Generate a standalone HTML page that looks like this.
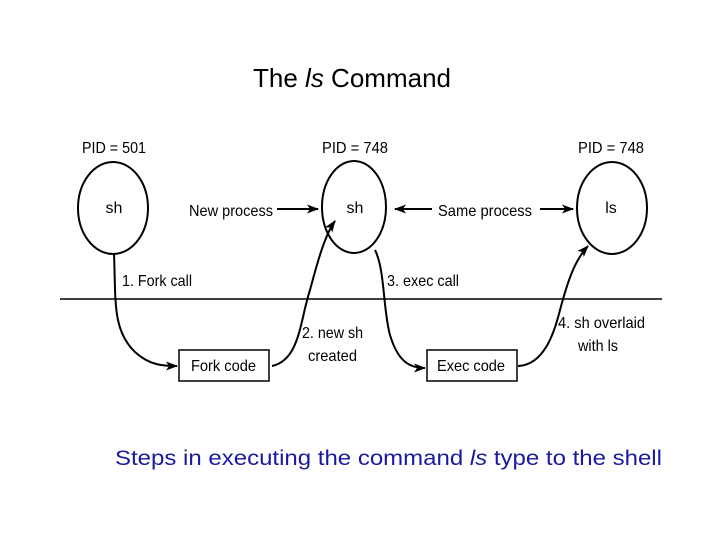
<!DOCTYPE html>
<html><head><meta charset="utf-8"><style>
html,body{margin:0;padding:0;background:#fff;}
svg{display:block;}
text{font-family:"Liberation Sans",sans-serif;}
</style></head><body>
<svg width="720" height="540" viewBox="0 0 720 540" xmlns="http://www.w3.org/2000/svg">
<defs><marker id="a" markerWidth="12" markerHeight="9" refX="11" refY="4.5" orient="auto" markerUnits="userSpaceOnUse"><path d="M0,0 L12,4.5 L0,9 L3,4.5 Z" fill="#000"/></marker></defs>
<text x="352" y="87" font-size="26" text-anchor="middle">The <tspan font-style="italic">ls</tspan> Command</text>
<g font-size="16" fill="#000">
<text x="82" y="153" textLength="64" lengthAdjust="spacingAndGlyphs">PID = 501</text>
<text x="322" y="153" textLength="66" lengthAdjust="spacingAndGlyphs">PID = 748</text>
<text x="578" y="153" textLength="66" lengthAdjust="spacingAndGlyphs">PID = 748</text>
<text x="114" y="213" text-anchor="middle">sh</text>
<text x="355" y="213" text-anchor="middle">sh</text>
<text x="611" y="213" text-anchor="middle">ls</text>
<text x="189" y="216" textLength="84" lengthAdjust="spacingAndGlyphs">New process</text>
<text x="438" y="216" textLength="94" lengthAdjust="spacingAndGlyphs">Same process</text>
<text x="122" y="286" textLength="70" lengthAdjust="spacingAndGlyphs">1. Fork call</text>
<text x="387" y="286" textLength="72" lengthAdjust="spacingAndGlyphs">3. exec call</text>
<text x="302" y="338" textLength="61" lengthAdjust="spacingAndGlyphs">2. new sh</text>
<text x="308" y="361" textLength="49" lengthAdjust="spacingAndGlyphs">created</text>
<text x="558" y="328" textLength="87" lengthAdjust="spacingAndGlyphs">4. sh overlaid</text>
<text x="578" y="351" textLength="40" lengthAdjust="spacingAndGlyphs">with ls</text>
<text x="191" y="371" textLength="65" lengthAdjust="spacingAndGlyphs">Fork code</text>
<text x="437" y="371" textLength="68" lengthAdjust="spacingAndGlyphs">Exec code</text>
</g>
<g fill="none" stroke="#000" stroke-width="2">
<ellipse cx="113" cy="208" rx="35" ry="46"/>
<ellipse cx="354" cy="207" rx="32" ry="46"/>
<ellipse cx="612" cy="208" rx="35" ry="46"/>
<line x1="60" y1="299" x2="662" y2="299" stroke-width="1.5"/>
<rect x="179" y="350" width="90" height="31" stroke-width="1.5"/>
<rect x="427" y="350" width="90" height="31" stroke-width="1.5"/>
<line x1="277" y1="209" x2="318" y2="209" marker-end="url(#a)"/>
<line x1="432" y1="209" x2="395" y2="209" marker-end="url(#a)"/>
<line x1="540" y1="209" x2="573" y2="209" marker-end="url(#a)"/>
<path d="M114,254 C116,300 112,330 135,352 C150,366 165,366 177,366" marker-end="url(#a)"/>
<path d="M272,366 C300,360 300,320 310,290 C318,260 325,235 335,221" marker-end="url(#a)"/>
<path d="M375,250 C385,270 383,310 390,335 C398,362 410,368 425,368" marker-end="url(#a)"/>
<path d="M518,366 C545,365 555,330 560,310 C568,280 575,260 588,246" marker-end="url(#a)"/>
</g>
<text x="115" y="465" font-size="21" fill="#1a1aa0" textLength="547" lengthAdjust="spacingAndGlyphs">Steps in executing the command <tspan font-style="italic">ls</tspan> type to the shell</text>
</svg>
</body></html>
